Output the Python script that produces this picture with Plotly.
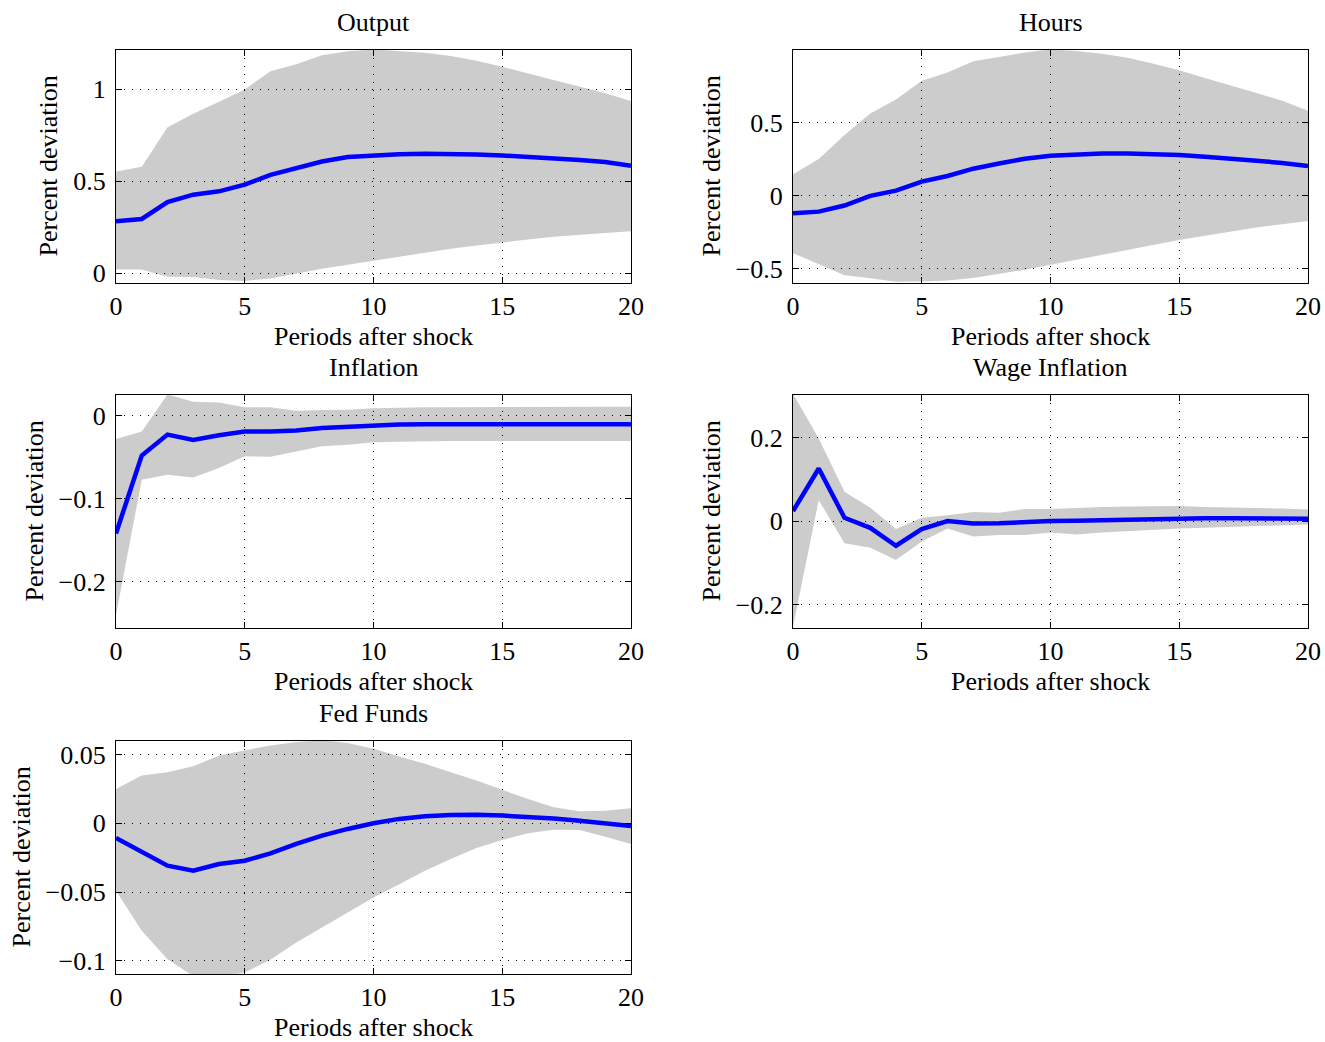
import plotly.graph_objects as go

periods = [0, 1, 2, 3, 4, 5, 6, 7, 8, 9, 10, 11, 12, 13, 14, 15, 16, 17, 18, 19, 20]

output_mean = [0.282, 0.294, 0.386, 0.426, 0.444, 0.480, 0.534, 0.570, 0.606, 0.630, 0.641,
               0.646, 0.648, 0.648, 0.644, 0.639, 0.632, 0.625, 0.614, 0.603, 0.583]
output_hi = [0.552, 0.578, 0.792, 0.865, 0.931, 0.998, 1.097, 1.135, 1.184, 1.205, 1.215,
             1.208, 1.197, 1.179, 1.153, 1.121, 1.085, 1.049, 1.013, 0.977, 0.935]
output_lo = [0.020, 0.020, -0.020, -0.022, -0.038, -0.043, -0.029, -0.002, 0.023, 0.045, 0.067,
             0.088, 0.110, 0.132, 0.150, 0.164, 0.182, 0.197, 0.209, 0.218, 0.227]

hours_mean = [-0.121, -0.110, -0.068, -0.002, 0.034, 0.096, 0.135, 0.185, 0.221, 0.253, 0.274,
              0.285, 0.290, 0.290, 0.285, 0.279, 0.267, 0.256, 0.240, 0.224, 0.203]
hours_hi = [0.146, 0.251, 0.416, 0.564, 0.660, 0.788, 0.845, 0.922, 0.952, 0.982, 1.005,
            0.993, 0.975, 0.947, 0.906, 0.861, 0.808, 0.758, 0.705, 0.651, 0.582]
hours_lo = [-0.395, -0.470, -0.546, -0.568, -0.591, -0.589, -0.582, -0.566, -0.539, -0.509, -0.475,
            -0.441, -0.406, -0.372, -0.338, -0.304, -0.276, -0.247, -0.219, -0.196, -0.174]

infl_mean = [-0.1416, -0.0476, -0.0224, -0.0288, -0.0232, -0.0188, -0.0188, -0.0176, -0.0144, -0.0128,
             -0.0108, -0.0102, -0.0100, -0.0099, -0.0098, -0.0098, -0.0098, -0.0098, -0.0098, -0.0098, -0.0098]
infl_hi = [-0.0276, -0.0188, 0.0260, 0.0172, 0.0164, 0.0104, 0.0104, 0.0064, 0.0072, 0.0076,
           0.0092, 0.0100, 0.0104, 0.0106, 0.0108, 0.0110, 0.0110, 0.0110, 0.0110, 0.0110, 0.0110]
infl_lo = [-0.2400, -0.0768, -0.0708, -0.0740, -0.0628, -0.0484, -0.0492, -0.0424, -0.0364, -0.0348,
           -0.0316, -0.0310, -0.0302, -0.0300, -0.0300, -0.0300, -0.0300, -0.0300, -0.0300, -0.0300, -0.0300]

wage_mean = [0.024, 0.126, 0.008, -0.016, -0.059, -0.019, 0.000, -0.0056, -0.005, -0.0016, 0.000,
             0.0008, 0.0024, 0.004, 0.0056, 0.007, 0.007, 0.007, 0.0064, 0.0060, 0.0056]
wage_hi = [0.305, 0.198, 0.070, 0.032, -0.019, 0.008, 0.014, 0.022, 0.020, 0.029, 0.029,
           0.032, 0.034, 0.035, 0.036, 0.036, 0.034, 0.033, 0.031, 0.030, 0.028]
wage_lo = [-0.253, 0.050, -0.053, -0.064, -0.093, -0.049, -0.018, -0.037, -0.033, -0.033, -0.027,
           -0.032, -0.027, -0.024, -0.020, -0.018, -0.016, -0.014, -0.011, -0.010, -0.008]

fed_mean = [-0.0107, -0.0211, -0.0308, -0.0345, -0.0296, -0.0272, -0.0218, -0.0150, -0.0090, -0.0041,
            0.0000, 0.0032, 0.0051, 0.0061, 0.0063, 0.0056, 0.0049, 0.0034, 0.0019, 0.0002, -0.0019]
fed_hi = [0.0250, 0.0347, 0.0371, 0.0415, 0.0493, 0.0529, 0.0566, 0.0590, 0.0605, 0.0583,
          0.0541, 0.0485, 0.0432, 0.0371, 0.0311, 0.0243, 0.0177, 0.0117, 0.0087, 0.0092, 0.0109]
fed_lo = [-0.0490, -0.0780, -0.0988, -0.1110, -0.1115, -0.1085, -0.0990, -0.0867, -0.0757, -0.0648,
          -0.0539, -0.0442, -0.0345, -0.0260, -0.0180, -0.0121, -0.0073, -0.0046, -0.0049, -0.0097, -0.0150]

titles = ["Output", "Hours", "Inflation", "Wage Inflation", "Fed Funds"]
x_ticks = [0, 5, 10, 15, 20]
y_ticks = [[0, 0.5, 1], [-0.5, 0, 0.5], [-0.2, -0.1, 0], [-0.2, 0, 0.2], [-0.1, -0.05, 0, 0.05]]
y_ticktext = [["0", "0.5", "1"], ["\u22120.5", "0", "0.5"], ["\u22120.2", "\u22120.1", "0"],
              ["\u22120.2", "0", "0.2"], ["\u22120.1", "\u22120.05", "0", "0.05"]]
y_ranges = [[-0.054, 1.212], [-0.6, 1.0], [-0.2555, 0.0253], [-0.256, 0.302], [-0.1095, 0.0598]]

series = [
    (output_mean, output_lo, output_hi),
    (hours_mean, hours_lo, hours_hi),
    (infl_mean, infl_lo, infl_hi),
    (wage_mean, wage_lo, wage_hi),
    (fed_mean, fed_lo, fed_hi),
]

W, H = 1325, 1042
# panel pixel boxes (left, right, top, bottom)
boxes = [(116, 631, 50, 283), (793, 1308, 50, 283),
         (116, 631, 395, 628), (793, 1308, 395, 628),
         (116, 631, 741, 974)]
ylabel_x = [48, 711, 34, 711, 21]

FONT = "Liberation Serif, Times New Roman, serif"
FS = 26

fig = go.Figure()
layout = dict(
    template="none",
    width=W, height=H, margin=dict(l=0, r=0, t=0, b=0, pad=0, autoexpand=False),
    paper_bgcolor="white", plot_bgcolor="white", showlegend=False,
    font=dict(family=FONT, size=FS, color="black"),
)
annotations = []

for i, (mean, lo, hi) in enumerate(series):
    n = i + 1
    xa = "x" if n == 1 else f"x{n}"
    ya = "y" if n == 1 else f"y{n}"
    fig.add_trace(go.Scatter(x=periods, y=lo, mode="lines", line=dict(width=0, color="rgba(0,0,0,0)"),
                             hoverinfo="skip", xaxis=xa, yaxis=ya))
    fig.add_trace(go.Scatter(x=periods, y=hi, mode="lines", line=dict(width=0, color="rgba(0,0,0,0)"),
                             fill="tonexty", fillcolor="rgba(0,0,0,0.2)", hoverinfo="skip",
                             xaxis=xa, yaxis=ya))
    fig.add_trace(go.Scatter(x=periods, y=mean, mode="lines", line=dict(width=4.5, color="#0000ff"),
                             xaxis=xa, yaxis=ya))

    l, r, t, b = boxes[i]
    xdom = [l / W, r / W]
    ydom = [1 - b / H, 1 - t / H]
    common = dict(
        automargin=False,
        showline=True, linecolor="black", linewidth=1.3, mirror="ticks",
        ticks="inside", ticklen=6, tickcolor="black", tickwidth=1,
        showgrid=True, gridcolor="black", gridwidth=1, griddash="1px,7px",
        zeroline=False, tickfont=dict(family=FONT, size=FS, color="black"),
    )
    layout["xaxis" if n == 1 else f"xaxis{n}"] = dict(
        domain=xdom, anchor=ya, range=[0, 20], tickvals=x_ticks,
        ticktext=[str(v) for v in x_ticks], ticklabelstandoff=0, **common)
    layout["yaxis" if n == 1 else f"yaxis{n}"] = dict(
        domain=ydom, anchor=xa, range=y_ranges[i], tickvals=y_ticks[i],
        ticktext=y_ticktext[i], ticklabelstandoff=4, **common)

    cx = (l + r) / 2 / W
    annotations.append(dict(text=titles[i], x=cx, y=1 - (t - 28) / H, xref="paper", yref="paper",
                            xanchor="center", yanchor="middle", showarrow=False,
                            font=dict(family=FONT, size=FS, color="black")))
    annotations.append(dict(text="Periods after shock", x=cx, y=1 - (b + 53) / H, xref="paper",
                            yref="paper", xanchor="center", yanchor="middle", showarrow=False,
                            font=dict(family=FONT, size=FS, color="black")))
    annotations.append(dict(text="Percent deviation", x=ylabel_x[i] / W, y=1 - (t + b) / 2 / H,
                            xref="paper", yref="paper", xanchor="center", yanchor="middle",
                            textangle=-90, showarrow=False,
                            font=dict(family=FONT, size=FS, color="black")))

layout["annotations"] = annotations
fig.update_layout(**layout)
fig.write_html("out.html", config={"displayModeBar": False},
               post_script="document.body.style.margin='0px';document.body.style.overflow='hidden';")
